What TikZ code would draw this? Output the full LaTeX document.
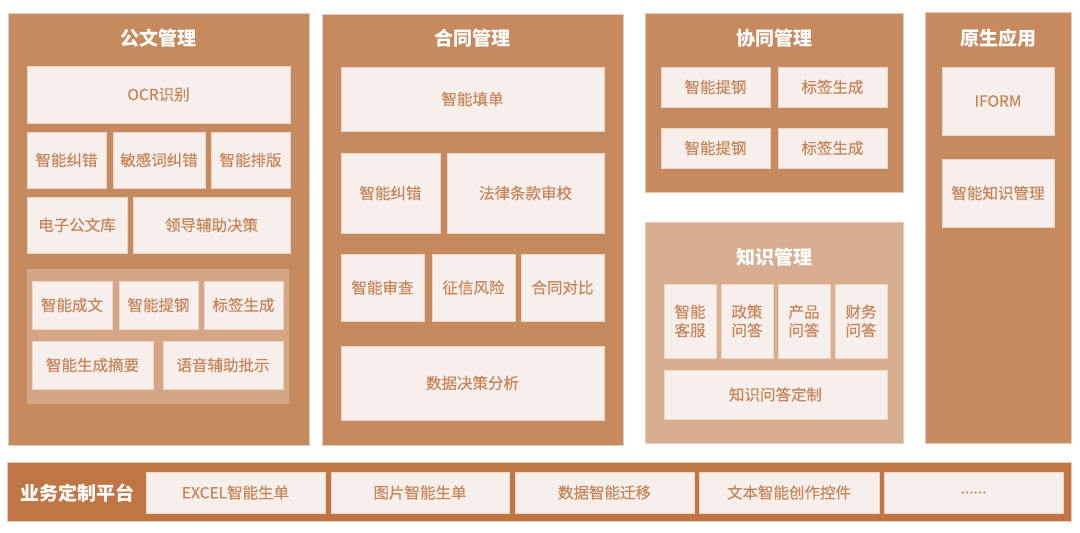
\documentclass[tikz,border=0pt]{standalone}
\usepackage{fontspec}
\setmainfont{Noto Sans CJK SC}
\newfontfamily\itemfont[FakeBold=0.35]{Noto Sans CJK SC}
\definecolor{panel}{HTML}{C68A5E}
\definecolor{barc}{HTML}{C07644}
\definecolor{know}{HTML}{D8AE91}
\definecolor{grp}{HTML}{D5A585}
\definecolor{boxf}{HTML}{F7EFEB}
\definecolor{boxd}{HTML}{EBD5C6}
\definecolor{txt}{HTML}{C6865A}
\definecolor{edge}{HTML}{E9CBB5}
\newcommand\bx[7][]{%
  \node[#1, minimum width={(#5-#3)*1pt}, minimum height={(#6-#4)*1pt}] (#2) at ({(#3+#5)/2},{(#4+#6)/2}) {#7};}
\tikzset{
  base/.style={inner sep=0pt, outer sep=0pt, rectangle},
  panelbox/.style={base, fill=panel, draw=edge, line width=0.6pt},
  knowbox/.style={base, fill=know, draw=edge, line width=0.6pt},
  barbox/.style={base, fill=barc, draw=edge, line width=0.6pt},
  grpbox/.style={base, fill=grp},
  item/.style={base, fill=boxf, draw=boxd, line width=0.6pt, text=txt, font=\itemfont\fontsize{15.5}{18.5}\selectfont, align=center},
  ttl/.style={base, text=white, font=\bfseries\fontsize{19}{22}\selectfont},
}
\begin{document}
\begin{tikzpicture}[x=1pt,y=-1pt]
\useasboundingbox (0,0) rectangle (1080,533);
% panels
\bx[panelbox]{p1}{8}{13}{309}{445}{}
\bx[panelbox]{p2}{322}{14}{623}{445}{}
\bx[panelbox]{p3}{645}{13}{903}{192}{}
\bx[panelbox]{p4}{925}{12}{1071}{443}{}
\bx[knowbox]{p5}{645}{222}{903}{443}{}
\bx[barbox]{bar}{7}{462}{1071}{521}{}
\bx[grpbox]{g1}{27}{269}{289}{404}{}
% titles
\node[ttl] (t1) at (158,38) {公文管理};
\node[ttl] (t2) at (472,38) {合同管理};
\node[ttl] (t3) at (774,38) {协同管理};
\node[ttl] (t4) at (998,38) {原生应用};
\node[ttl] (t5) at (774,257) {知识管理};
\node[ttl] (t6) at (77,493) {业务定制平台};
% 公文管理
\bx[item]{a1}{27}{66}{290}{123}{OCR识别}
\bx[item]{a2}{27}{132}{106}{188}{智能纠错}
\bx[item]{a3}{113}{132}{205}{188}{敏感词纠错}
\bx[item]{a4}{211}{132}{290}{188}{智能排版}
\bx[item]{a5}{27}{197}{127}{253}{电子公文库}
\bx[item]{a6}{133}{197}{290}{253}{领导辅助决策}
\bx[item]{a7}{32}{281}{112}{329}{智能成文}
\bx[item]{a8}{119}{281}{198}{329}{智能提钢}
\bx[item]{a9}{204}{281}{283}{329}{标签生成}
\bx[item]{a10}{32}{341}{153}{389}{智能生成摘要}
\bx[item]{a11}{163}{341}{283}{389}{语音辅助批示}
% 合同管理
\bx[item]{b1}{341}{67}{604}{131}{智能填单}
\bx[item]{b2}{341}{153}{440}{233}{智能纠错}
\bx[item]{b3}{447}{153}{604}{233}{法律条款审校}
\bx[item]{b4}{341}{254}{424}{321}{智能审查}
\bx[item]{b5}{432}{254}{515}{321}{征信风险}
\bx[item]{b6}{521}{254}{604}{321}{合同对比}
\bx[item]{b7}{341}{346}{604}{420}{数据决策分析}
% 协同管理
\bx[item]{c1}{661}{67}{770}{107}{智能提钢}
\bx[item]{c2}{778}{67}{887}{107}{标签生成}
\bx[item]{c3}{661}{128}{770}{168}{智能提钢}
\bx[item]{c4}{778}{128}{887}{168}{标签生成}
% 原生应用
\bx[item]{d1}{942}{67}{1054}{135}{IFORM}
\bx[item]{d2}{942}{159}{1054}{227}{智能知识管理}
% 知识管理
\bx[item]{e1}{664}{284}{716}{358}{智能\\客服}
\bx[item]{e2}{721}{284}{773}{358}{政策\\问答}
\bx[item]{e3}{778}{284}{830}{358}{产品\\问答}
\bx[item]{e4}{835}{284}{887}{358}{财务\\问答}
\bx[item]{e5}{664}{370}{887}{419}{知识问答定制}
% 业务定制平台
\bx[item]{f1}{146}{472}{325}{513}{EXCEL智能生单}
\bx[item]{f2}{331}{472}{509}{513}{图片智能生单}
\bx[item]{f3}{515}{472}{694}{513}{数据智能迁移}
\bx[item]{f4}{699}{472}{879}{513}{文本智能创作控件}
\bx[item]{f5}{884}{472}{1063}{513}{......}
\end{tikzpicture}
\end{document}
